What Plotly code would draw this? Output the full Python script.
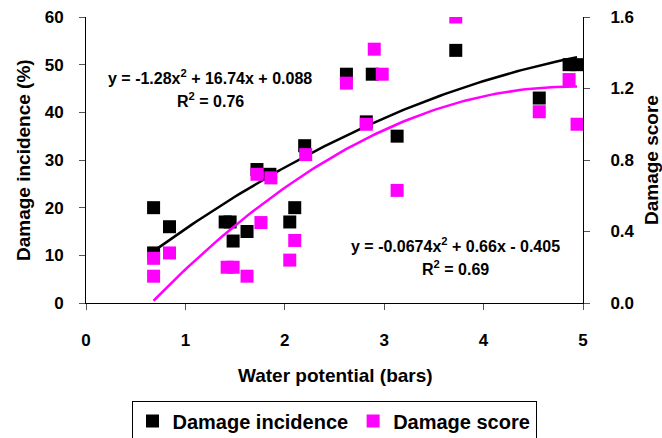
import numpy as np
import plotly.graph_objects as go

# Water potential (bars) for each sample
water_potential_inc = [0.68, 0.84, 0.68, 1.40, 1.45, 1.48, 1.62, 1.72, 1.85, 2.05, 2.10, 2.20,
                       2.62, 2.88, 2.82, 3.13, 3.72, 4.56, 4.86, 4.94]
damage_incidence = [20, 16, 10.5, 17, 17, 13, 15, 28, 27, 17, 20, 33,
                    48, 48, 38, 35, 53, 43, 50, 50]

water_potential_score = [0.68, 0.68, 0.84, 1.42, 1.48, 1.62, 1.72, 1.76, 1.86, 2.05, 2.10, 2.21,
                         2.62, 2.90, 2.98, 2.82, 3.13, 3.72, 4.56, 4.86, 4.94]
damage_score = [0.25, 0.15, 0.28, 0.20, 0.20, 0.15, 0.72, 0.45, 0.70, 0.24, 0.35, 0.83,
                1.23, 1.42, 1.28, 1.00, 0.63, 1.60, 1.07, 1.25, 1.00]

# Quadratic trendline coefficients (a, b, c) for y = a x^2 + b x + c
inc_fit = (-1.28, 16.74, 0.088)
score_fit = (-0.0674, 0.66, -0.405)

x_ticks = [0, 1, 2, 3, 4, 5]
left_ticks = [0, 10, 20, 30, 40, 50, 60]
right_ticks = [0.0, 0.4, 0.8, 1.2, 1.6]

FONT = "Liberation Sans, Arial, sans-serif"
MAGENTA = "#FF00FF"

xs = np.linspace(min(water_potential_inc), max(water_potential_inc), 100)
inc_curve = inc_fit[0] * xs**2 + inc_fit[1] * xs + inc_fit[2]
score_curve = score_fit[0] * xs**2 + score_fit[1] * xs + score_fit[2]

fig = go.Figure()
fig.add_trace(go.Scatter(
    x=water_potential_inc, y=damage_incidence, mode="markers",
    name="<b>Damage incidence</b>",
    marker=dict(symbol="square", size=13, color="black"),
))
fig.add_trace(go.Scatter(
    x=water_potential_score, y=damage_score, mode="markers",
    name="<b>Damage score</b>", yaxis="y2",
    marker=dict(symbol="square", size=13, color=MAGENTA),
))
fig.add_trace(go.Scatter(
    x=xs, y=inc_curve, mode="lines", showlegend=False,
    line=dict(color="black", width=2.5), hoverinfo="skip",
))
fig.add_trace(go.Scatter(
    x=xs, y=score_curve, mode="lines", showlegend=False, yaxis="y2",
    line=dict(color=MAGENTA, width=2.5), hoverinfo="skip",
))

L, R, T, B = 86, 79, 17, 135
W, H = 662, 438
pw, ph = W - L - R, H - T - B


def px_to_paper(px_, py_):
    return (px_ - L) / pw, 1 - (py_ - T) / ph


eq_font = dict(family=FONT, size=16, color="black")
title_font = dict(family=FONT, size=19, color="black")

texts = [
    (210, 77, "<b>y = -1.28x<sup>2</sup> + 16.74x + 0.088</b>", eq_font, 0),
    (210, 100, "<b>R<sup>2</sup> = 0.76</b>", eq_font, 0),
    (455, 245, "<b>y = -0.0674x<sup>2</sup> + 0.66x - 0.405</b>", eq_font, 0),
    (455, 268, "<b>R<sup>2</sup> = 0.69</b>", eq_font, 0),
    (335, 375, "<b>Water potential (bars)</b>", title_font, 0),
    (23, 160, "<b>Damage incidence (%)</b>", title_font, -90),
    (651, 160, "<b>Damage score</b>", title_font, -90),
]
for px_, py_, txt, f, ang in texts:
    ax_, ay_ = px_to_paper(px_, py_)
    fig.add_annotation(x=ax_, y=ay_, xref="paper", yref="paper", showarrow=False,
                       text=txt, font=f, textangle=ang,
                       xanchor="center", yanchor="middle")

tick_font = dict(family=FONT, size=17, color="black")

fig.update_layout(
    width=W, height=H,
    margin=dict(l=L, r=R, t=T, b=B, autoexpand=False),
    paper_bgcolor="white", plot_bgcolor="white",
    xaxis=dict(
        range=[0, 5], tickvals=x_ticks, ticktext=[f"<b>{v}</b>" for v in x_ticks],
        showgrid=False, zeroline=False, showline=True, linecolor="black", linewidth=1,
        ticks="outside", ticklen=6, tickcolor="#555", tickfont=tick_font,
        ticklabelstandoff=16,
    ),
    yaxis=dict(
        range=[0, 60], tickvals=left_ticks, ticktext=[f"<b>{v}</b>" for v in left_ticks],
        showgrid=False, zeroline=False, showline=True, linecolor="black", linewidth=1,
        ticks="outside", ticklen=6, tickcolor="#555", tickfont=tick_font,
        ticklabelstandoff=12,
    ),
    yaxis2=dict(
        range=[0, 1.6], tickvals=right_ticks, ticktext=[f"<b>{v:.1f}</b>" for v in right_ticks],
        overlaying="y", side="right",
        showgrid=False, zeroline=False, showline=True, linecolor="black", linewidth=1,
        ticks="outside", ticklen=6, tickcolor="#555", tickfont=tick_font,
        ticklabelstandoff=17,
    ),
    legend=dict(
        orientation="h", x=(334 - L) / pw, xanchor="center",
        y=1 - (421 - T) / ph, yanchor="middle",
        bordercolor="black", borderwidth=1, bgcolor="white",
        font=dict(family=FONT, size=20, color="black"),
        itemwidth=30, tracegroupgap=0,
    ),
    showlegend=True,
)

fig.write_html("out.html")
